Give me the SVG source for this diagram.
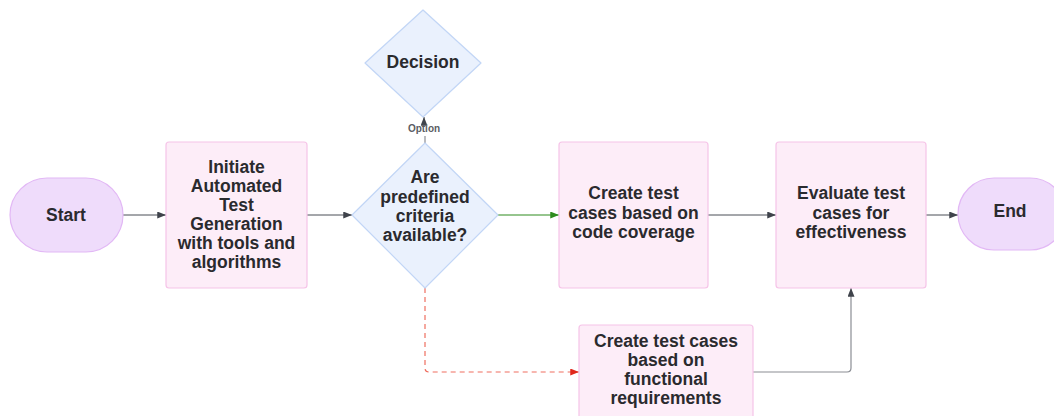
<svg xmlns="http://www.w3.org/2000/svg" width="1054" height="416" viewBox="0 0 1054 416">
  <defs>
    <style>
      .term { fill: #efdcfb; stroke: #e2b8f5; stroke-width: 1.2; }
      .proc { fill: #fdedf8; stroke: #f6c4e8; stroke-width: 1.2; }
      .dec { fill: #eaf1fd; stroke: #c2d6f6; stroke-width: 1.2; }
      .lbl { font-family: "Liberation Sans", Arial, sans-serif; font-weight: bold; font-size: 17.5px; fill: #2a2a2e; text-anchor: middle; }
      .small { font-family: "Liberation Sans", Arial, sans-serif; font-weight: bold; font-size: 10px; fill: #5a5d63; text-anchor: middle; }
      .edge { fill: none; stroke: #4b4f57; stroke-width: 1; }
      .edge-yes { fill: none; stroke: #2e8b1e; stroke-width: 1.2; }
      .edge-no { fill: none; stroke: #ef6f60; stroke-width: 1.2; stroke-dasharray: 5 4; }
      .edge-soft { fill: none; stroke: #8b8e94; stroke-width: 1.2; }
    </style>
    <marker id="arr" viewBox="0 0 10 8" refX="10" refY="4" markerWidth="9" markerHeight="7" markerUnits="userSpaceOnUse" orient="auto">
      <path d="M0,0 L10,4 L0,8 Z" fill="#3f434b"/>
    </marker>
    <marker id="arr-green" viewBox="0 0 10 8" refX="10" refY="4" markerWidth="9" markerHeight="7" markerUnits="userSpaceOnUse" orient="auto">
      <path d="M0,0 L10,4 L0,8 Z" fill="#2e8b1e"/>
    </marker>
    <marker id="arr-red" viewBox="0 0 10 8" refX="10" refY="4" markerWidth="9" markerHeight="7" markerUnits="userSpaceOnUse" orient="auto">
      <path d="M0,0 L10,4 L0,8 Z" fill="#e0281c"/>
    </marker>
  </defs>

  <rect width="1054" height="416" fill="#ffffff"/>

  <!-- connectors -->
  <g id="connectors">
    <path class="edge" d="M123,215 H166" marker-end="url(#arr)"/>
    <path class="edge" d="M307,215 H352" marker-end="url(#arr)"/>
    <path class="edge-yes" d="M498,215 H559" marker-end="url(#arr-green)"/>
    <path class="edge" d="M708,215 H776" marker-end="url(#arr)"/>
    <path class="edge" d="M926,215 H958" marker-end="url(#arr)"/>
    <path class="edge-no" d="M425,288 V368 Q425,372 429,372 H579" marker-end="url(#arr-red)"/>
    <path class="edge-soft" d="M753,372 H847 Q851,372 851,368 V288" marker-end="url(#arr)"/>
    <path class="edge-soft" d="M425,143 V136"/>
    <path class="edge" d="M424,124 V117" marker-end="url(#arr)"/>
    <text class="small" x="424" y="132">Option</text>
  </g>

  <g id="start">
    <rect class="term" x="10" y="178" width="113" height="74" rx="37" ry="37"/>
    <text class="lbl" x="66" y="221">Start</text>
  </g>

  <g id="initiate">
    <rect class="proc" x="166" y="142" width="141" height="146" rx="3"/>
    <text class="lbl" x="236.5" y="173">Initiate</text>
    <text class="lbl" x="236.5" y="192">Automated</text>
    <text class="lbl" x="236.5" y="211">Test</text>
    <text class="lbl" x="236.5" y="230">Generation</text>
    <text class="lbl" x="236.5" y="249">with tools and</text>
    <text class="lbl" x="236.5" y="268">algorithms</text>
  </g>

  <g id="decision">
    <path class="dec" d="M423,10 L481,63 L423,117 L365,63 Z" stroke-linejoin="round"/>
    <text class="lbl" x="423" y="68">Decision</text>
  </g>

  <g id="criteria">
    <path class="dec" d="M425,143 L498,215 L425,288 L352,215 Z" stroke-linejoin="round"/>
    <text class="lbl" x="425" y="183">Are</text>
    <text class="lbl" x="425" y="203">predefined</text>
    <text class="lbl" x="425" y="222">criteria</text>
    <text class="lbl" x="425" y="241">available?</text>
  </g>

  <g id="coverage">
    <rect class="proc" x="559" y="142" width="149" height="146" rx="3"/>
    <text class="lbl" x="633.5" y="199">Create test</text>
    <text class="lbl" x="633.5" y="219">cases based on</text>
    <text class="lbl" x="633.5" y="238">code coverage</text>
  </g>

  <g id="evaluate">
    <rect class="proc" x="776" y="142" width="150" height="146" rx="3"/>
    <text class="lbl" x="851" y="199">Evaluate test</text>
    <text class="lbl" x="851" y="219">cases for</text>
    <text class="lbl" x="851" y="238">effectiveness</text>
  </g>

  <g id="end">
    <rect class="term" x="958" y="178" width="108" height="72" rx="36" ry="36"/>
    <text class="lbl" x="1010" y="217">End</text>
  </g>

  <g id="functional">
    <rect class="proc" x="579" y="325" width="174" height="100" rx="3"/>
    <text class="lbl" x="666" y="347">Create test cases</text>
    <text class="lbl" x="666" y="366">based on</text>
    <text class="lbl" x="666" y="385">functional</text>
    <text class="lbl" x="666" y="404">requirements</text>
  </g>
</svg>
